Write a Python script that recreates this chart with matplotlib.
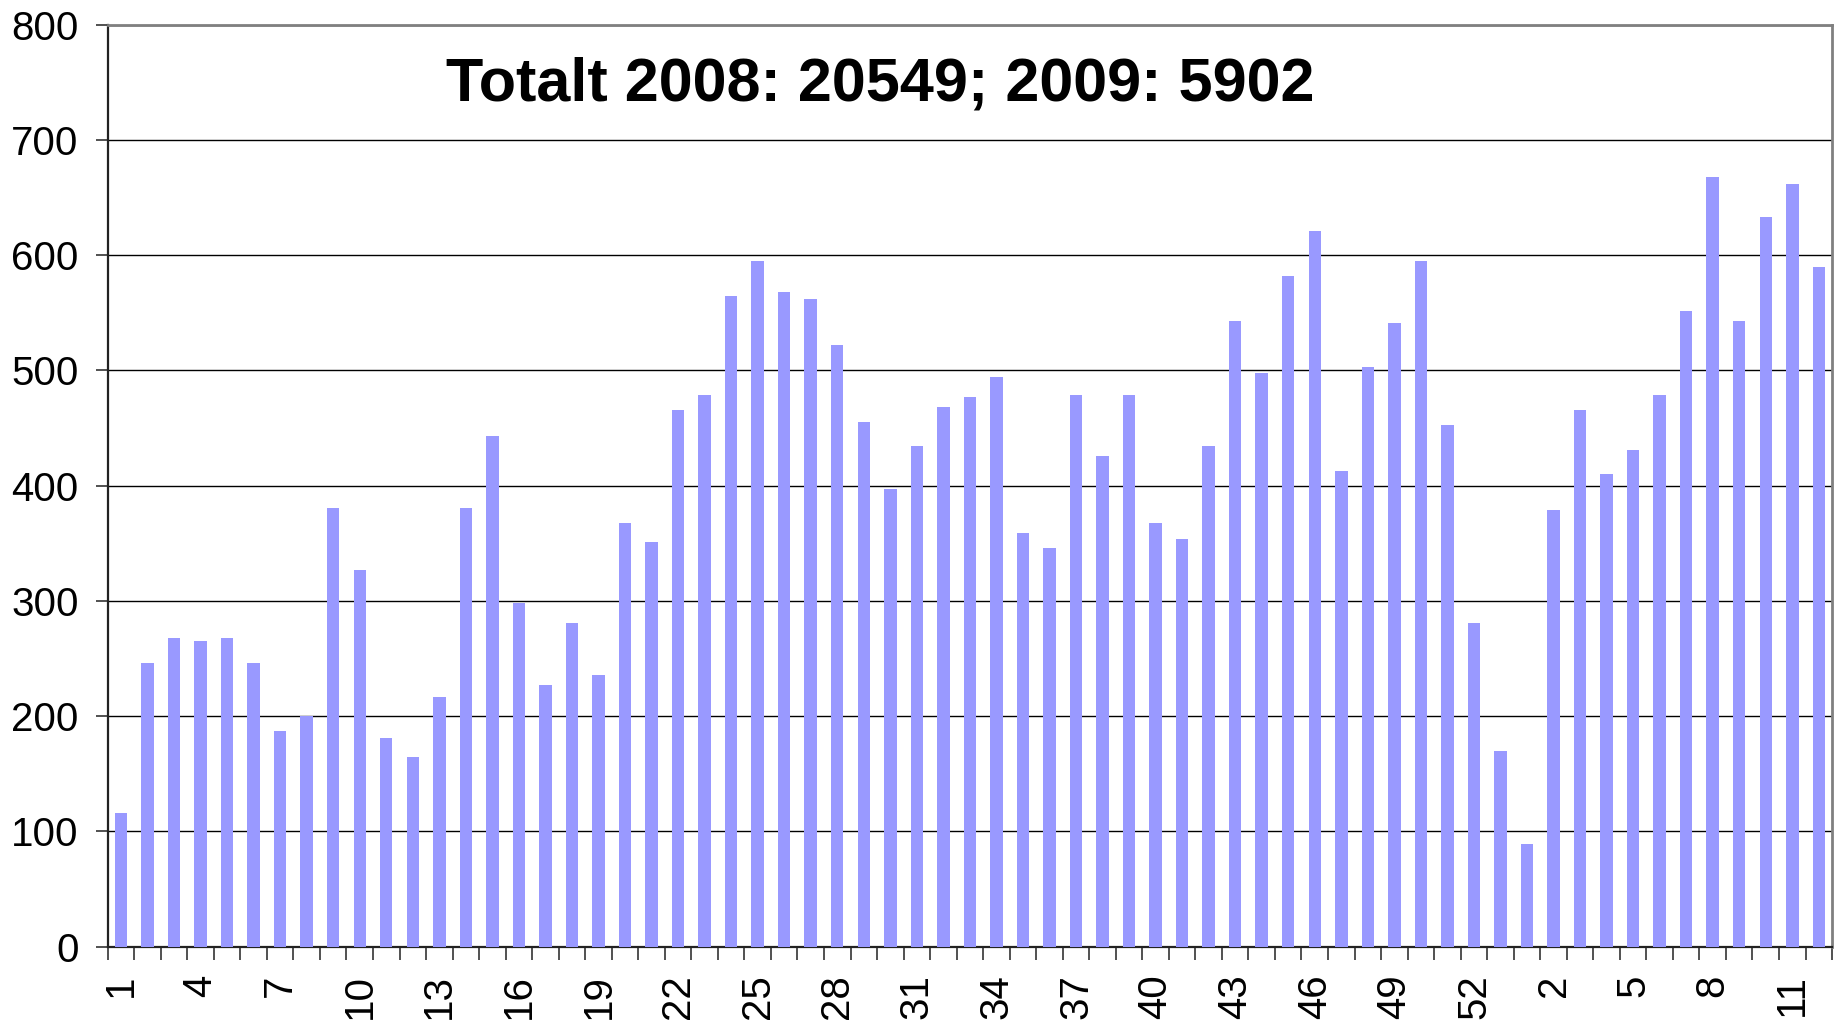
import matplotlib
matplotlib.use("Agg")
import matplotlib.pyplot as plt
import numpy as np

plt.rcParams['font.family'] = ['Liberation Sans', 'DejaVu Sans']

weeks_2008 = list(range(1, 54))
weeks_2009 = list(range(1, 13))
values_2008 = [116, 246, 268, 265, 268, 246, 187, 200, 381, 327,
               181, 165, 217, 381, 443, 298, 227, 281, 236, 368,
               351, 466, 479, 565, 595, 568, 562, 522, 455, 397,
               434, 468, 477, 494, 359, 346, 479, 426, 479, 368,
               354, 434, 543, 498, 582, 621, 413, 503, 541, 595,
               453, 281, 170]
values_2009 = [89, 379, 466, 410, 431, 479, 552, 668, 543, 633, 662, 590]
title_text = "Totalt 2008: 20549; 2009: 5902"
y_ticks = [0, 100, 200, 300, 400, 500, 600, 700, 800]

categories = [str(w) for w in weeks_2008] + [str(w) for w in weeks_2009]
values = values_2008 + values_2009
n = len(values)
x = np.arange(n)

fig = plt.figure(figsize=(18.35, 10.24), dpi=100)
ax = fig.add_axes([0.0587, 0.0755, 0.9397, 0.9004])

ax.bar(x, values, width=0.47, color='#9999FF', zorder=3)

ax.set_xlim(-0.5, n - 0.5)
ax.set_ylim(0, 800)
ax.set_yticks(y_ticks)
ax.set_yticklabels([str(t) for t in y_ticks], fontsize=29)
ax.yaxis.grid(True, color='black', linewidth=1.0, zorder=1)
ax.set_axisbelow(True)

# tick marks between categories, labels at every 3rd category
ax.set_xticks(np.arange(n + 1) - 0.5, minor=False)
ax.set_xticklabels([])
ax.set_xticks(x[::3], minor=True)
ax.set_xticklabels([categories[i] for i in x[::3]], minor=True,
                   rotation=90, fontsize=29, va='top', ha='center')
ax.tick_params(axis='x', which='major', direction='out', length=9, width=1.2, color='#333333')
ax.tick_params(axis='x', which='minor', length=0, pad=20)
ax.tick_params(axis='y', direction='out', length=9, width=1.2, pad=12, color='#333333')

for s in ['left', 'bottom']:
    ax.spines[s].set_color('#222222')
    ax.spines[s].set_linewidth(1.6)
for s in ['top', 'right']:
    ax.spines[s].set_color('#808080')
    ax.spines[s].set_linewidth(2)

ax.text(0.448, 0.935, title_text, transform=ax.transAxes, ha='center', va='center',
        fontsize=44, fontweight='bold')

fig.savefig('out.png', dpi=100)
